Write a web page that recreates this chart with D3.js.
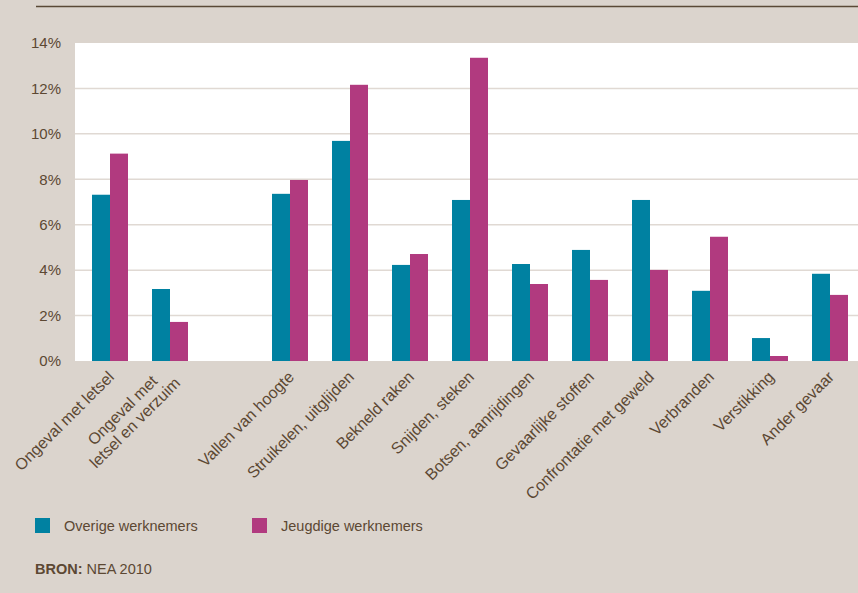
<!DOCTYPE html>
<html>
<head>
<meta charset="utf-8">
<script src="https://cdn.jsdelivr.net/npm/d3@7"></script>
<style>
  html, body { margin: 0; padding: 0; background: #dbd4cd; }
  svg { display: block; }
</style>
</head>
<body>
<div id="chart"></div>
<script>
// categories (empty slot between the two groups)
const categories = [
  "Ongeval met letsel",
  "Ongeval met\nletsel en verzuim",
  "",
  "Vallen van hoogte",
  "Struikelen, uitglijden",
  "Bekneld raken",
  "Snijden, steken",
  "Botsen, aanrijdingen",
  "Gevaarlijke stoffen",
  "Confrontatie met geweld",
  "Verbranden",
  "Verstikking",
  "Ander gevaar"
];

const overige = [7.32, 3.17, null, 7.36, 9.69, 4.23, 7.09, 4.27, 4.89, 7.09, 3.09, 1.01, 3.84];
const jeugdige = [9.13, 1.72, null, 7.97, 12.16, 4.71, 13.35, 3.39, 3.57, 4.01, 5.47, 0.22, 2.91];

const seriesNames = ["Overige werknemers", "Jeugdige werknemers"];
const yTicks = [0, 2, 4, 6, 8, 10, 12, 14];

let width = 858;
let height = 593;

let color = {
  text: '#5c4833',
  grid: '#e0d9d3',
  bg: '#dbd4cd',
  line: '#5a4936',
  series: ['#0081a1', '#b13a7f']
};

const font = "'Liberation Sans', Arial, sans-serif";
const labelSize = 16;

const plot = { left: 75, right: 858, top: 43, bottom: 361 };

const data = categories.map((c, i) => ({
  name: c,
  values: [overige[i], jeugdige[i]]
}));

const svg = d3.select("#chart").append("svg")
  .attr("width", width)
  .attr("height", height)
  .style("font-family", font);

svg.append("rect")
  .attr("width", width).attr("height", height)
  .attr("fill", color.bg);

// top rule
svg.append("line")
  .attr("x1", 36).attr("x2", width)
  .attr("y1", 6.5).attr("y2", 6.5)
  .attr("stroke", color.line)
  .attr("stroke-width", 1.5);

// white plot area
svg.append("rect")
  .attr("x", plot.left).attr("y", plot.top)
  .attr("width", plot.right - plot.left)
  .attr("height", plot.bottom - plot.top)
  .attr("fill", "#fff");

let x0 = d3.scaleBand()
  .domain(d3.range(categories.length))
  .range([80, 860])
  .paddingInner(0.4)
  .paddingOuter(0.2);

let x1 = d3.scaleBand()
  .domain([0, 1])
  .range([0, x0.bandwidth()]);

let y = d3.scaleLinear()
  .domain([0, 14])
  .range([plot.bottom, plot.top]);

// gridlines
svg.append("g")
  .selectAll("line")
  .data(yTicks.filter(t => t > 0 && t < 14))
  .enter().append("line")
  .attr("x1", plot.left).attr("x2", plot.right)
  .attr("y1", d => y(d)).attr("y2", d => y(d))
  .attr("stroke", color.grid)
  .attr("stroke-width", 1.5);

// y axis
const gy = svg.append("g")
  .attr("transform", `translate(${plot.left - 14},0)`)
  .call(d3.axisLeft(y).tickValues(yTicks).tickSize(0).tickFormat(d => d + "%"));
gy.select(".domain").remove();
gy.selectAll("text")
  .attr("x", 0)
  .attr("fill", color.text)
  .style("font-size", "15px")
  .style("font-family", font);

// bars
svg.append("g")
  .selectAll("g")
  .data(data)
  .enter().append("g")
  .attr("transform", (d, i) => `translate(${x0(i)},0)`)
  .selectAll("rect")
  .data(d => d.values.map((v, k) => ({ v, k })).filter(e => e.v != null))
  .enter().append("rect")
  .attr("x", e => x1(e.k))
  .attr("y", e => y(e.v))
  .attr("width", x1.bandwidth())
  .attr("height", e => y(0) - y(e.v))
  .attr("fill", e => color.series[e.k]);

// x labels, rotated -45deg, multi-line centred
const labels = svg.append("g")
  .selectAll("g")
  .data(data.filter(d => d.name))
  .enter().append("g")
  .attr("transform", d => {
    const i = categories.indexOf(d.name);
    return `translate(${x0(i) + x0.bandwidth() / 2 + 1},${plot.bottom + 13}) rotate(-45)`;
  });

labels.each(function (d) {
  const g = d3.select(this);
  const lines = d.name.split("\n");
  const t = g.append("text")
    .attr("text-anchor", "end")
    .attr("fill", color.text)
    .style("font-size", labelSize + "px");
  const spans = lines.map((l, j) => t.append("tspan")
    .attr("x", 0)
    .attr("dy", j === 0 ? "0.35em" : "1.1em")
    .text(l));
  if (lines.length > 1) {
    const w = spans.map(s => s.node().getComputedTextLength());
    const mw = d3.max(w);
    spans.forEach((s, j) => s.attr("x", -(mw - w[j]) / 2));
    t.attr("transform", `translate(0,${-(lines.length - 1) * 0.55 * labelSize})`);
  }
});

// legend
const legend = svg.append("g")
  .selectAll("g")
  .data(seriesNames)
  .enter().append("g")
  .attr("transform", (d, i) => `translate(${i === 0 ? 35 : 252},518)`);

legend.append("rect")
  .attr("width", 15).attr("height", 15)
  .attr("fill", (d, i) => color.series[i]);

legend.append("text")
  .attr("x", 29).attr("y", 8)
  .attr("dy", "0.35em")
  .attr("fill", color.text)
  .style("font-size", "14.5px")
  .text(d => d);

// source
const src = svg.append("text")
  .attr("x", 35).attr("y", 574)
  .attr("fill", color.text)
  .style("font-size", "14.5px");
src.append("tspan").style("font-weight", "bold").text("BRON:");
src.append("tspan").text(" NEA 2010");
</script>
</body>
</html>
